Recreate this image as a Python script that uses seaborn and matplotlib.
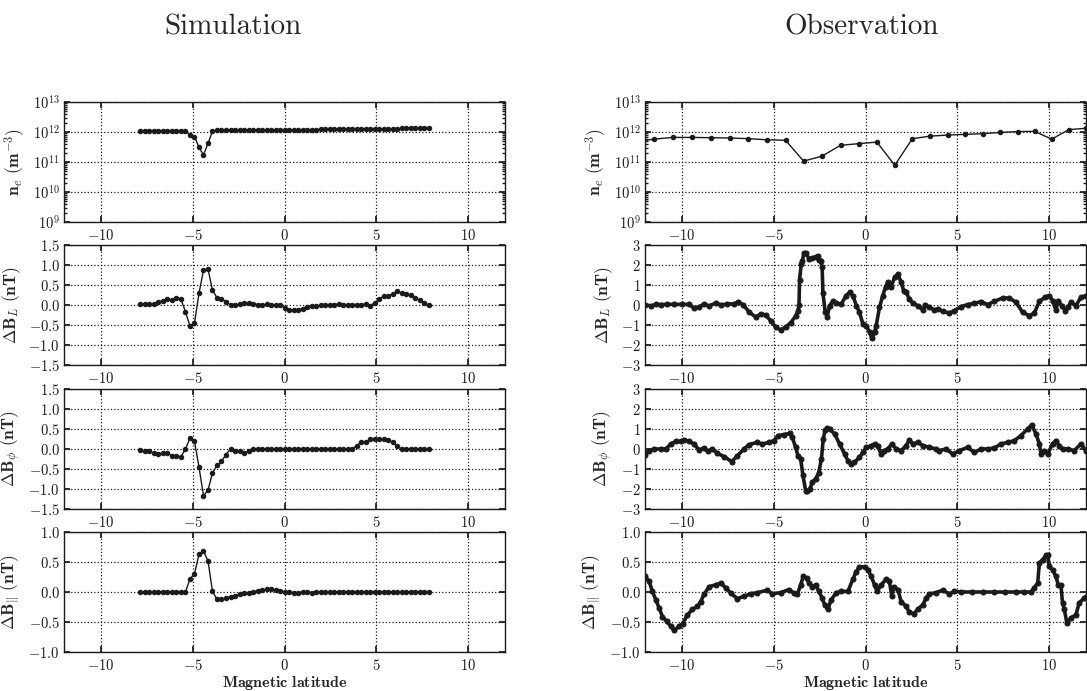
import numpy as np
import matplotlib
matplotlib.use("Agg")
import matplotlib.pyplot as plt
import seaborn as sns

# ---------------- Simulation data ----------------
sim_lat = np.linspace(-7.84, 7.84, 65)

sim_ne = np.array([
    1.12, 1.12, 1.12, 1.12, 1.12, 1.12, 1.12, 1.12, 1.12, 1.12,
    1.10, 0.81, 0.70, 0.31, 0.17, 0.42, 1.05,
    1.13, 1.13, 1.13, 1.13, 1.14, 1.14, 1.14, 1.14, 1.15, 1.15, 1.15, 1.15, 1.16, 1.16, 1.17,
    1.18, 1.18, 1.19, 1.19, 1.20, 1.20, 1.21, 1.21, 1.22, 1.22, 1.23, 1.23, 1.24, 1.24,
    1.25, 1.25, 1.26, 1.26, 1.27, 1.27, 1.28, 1.28, 1.29, 1.29, 1.30, 1.30, 1.31, 1.31,
    1.32, 1.32, 1.33, 1.33, 1.34]) * 1e12

sim_bl = [
    0.03, 0.03, 0.03, 0.03, 0.08, 0.11, 0.14, 0.12, 0.17, 0.14,
    -0.17, -0.53, -0.45, 0.29, 0.87, 0.90, 0.37, 0.18, 0.16, 0.08,
    0.00, 0.00, 0.02, 0.04, 0.04, 0.03, 0.01, -0.01, 0.02, 0.01,
    0.00, 0.00, -0.07, -0.12, -0.13, -0.12, -0.09, -0.04, -0.03, -0.03,
    -0.01, 0.00, 0.01, 0.01, 0.02, 0.01, 0.01, 0.01, 0.01, 0.01,
    0.02, -0.03, 0.06, 0.14, 0.22, 0.22, 0.28, 0.34, 0.29, 0.28,
    0.24, 0.18, 0.12, 0.05, 0.00]

sim_bphi = [
    -0.02, -0.05, -0.06, -0.11, -0.13, -0.11, -0.09, -0.18, -0.17, -0.20,
    0.00, 0.27, 0.19, -0.45, -1.17, -1.03, -0.60, -0.41, -0.31, -0.14,
    0.00, -0.04, -0.06, -0.10, -0.05, 0.00, 0.00, 0.00, 0.00, 0.00,
    0.00, 0.00, 0.00, 0.00, 0.00, 0.00, 0.00, 0.00, 0.00, 0.00,
    0.00, 0.00, 0.00, 0.00, 0.00, 0.00, 0.00, 0.00, 0.08, 0.17,
    0.17, 0.24, 0.26, 0.26, 0.24, 0.23, 0.17, 0.08, 0.00, 0.00,
    0.00, 0.00, 0.00, 0.00, 0.00]

sim_bpar = [
    0.00, 0.00, 0.00, 0.00, 0.00, 0.00, 0.00, 0.00, 0.00, 0.00,
    0.00, 0.22, 0.30, 0.63, 0.68, 0.52, 0.01, -0.12, -0.12, -0.10,
    -0.08, -0.06, -0.04, -0.02, -0.01, 0.00, 0.02, 0.03, 0.045, 0.045,
    0.035, 0.02, 0.00, 0.00, -0.01, -0.01, 0.00, 0.00, -0.01, 0.00,
    0.00, 0.00, 0.00, 0.00, 0.00, 0.00, 0.00, 0.00, 0.00, 0.00,
    0.00, 0.00, 0.00, 0.00, 0.00, 0.00, 0.00, 0.00, 0.00, 0.00,
    0.00, 0.00, 0.00, 0.00, 0.00]

# ---------------- Observation data ----------------
obs_ne_lat = [-12.5, -11.49, -10.47, -9.44, -8.41, -7.39, -6.38, -5.36, -4.35, -3.37,
              -2.37, -1.36, -0.36, 0.62, 1.59, 2.55, 3.53, 4.49, 5.43, 6.39,
              7.33, 8.28, 9.20, 10.13, 11.07, 11.99]
obs_ne = np.array([4.8, 5.8, 6.6, 6.6, 6.45, 6.3, 6.0, 5.5, 5.3, 1.07,
                   1.57, 3.6, 4.1, 4.6, 0.78, 6.0, 7.3, 7.9, 8.35, 8.8,
                   9.7, 10.3, 10.5, 5.8, 12.0, 13.3]) * 1e11

obs_bl_lat = [-12.0, -11.68, -11.41, -11.14, -10.78, -10.42, -10.0, -9.6, -9.33, -9.06,
              -8.79, -8.51, -8.15, -7.88, -7.52, -7.16, -6.92, -6.65, -6.34, -5.98,
              -5.71, -5.43, -5.16, -4.89, -4.62, -4.35, -4.08, -3.80, -3.68, -3.62,
              -3.59, -3.50, -3.44, -3.35, -3.24, -3.08, -2.90, -2.72, -2.60, -2.54,
              -2.45, -2.36, -2.32, -2.19, -2.08, -1.96, -1.78, -1.60, -1.32, -1.05,
              -0.87, -0.69, -0.50, -0.33, -0.14, 0.04, 0.22, 0.34, 0.49, 0.58,
              0.76, 0.94, 1.09, 1.21, 1.39, 1.58, 1.76, 1.94, 2.08, 2.21,
              2.39, 2.57, 2.84, 3.12, 3.24, 3.48, 3.75, 3.93, 4.20, 4.57,
              4.84, 5.20, 5.56, 5.92, 6.29, 6.65, 7.01, 7.46, 7.83, 8.19,
              8.55, 8.91, 9.18, 9.46, 9.76, 10.0, 10.18, 10.36, 10.49, 10.67,
              10.87, 11.0, 11.18, 11.45, 11.72, 11.99]
obs_bl = [0.02, -0.05, 0.03, 0.02, 0.03, 0.03, 0.03, 0.03, -0.15, -0.10,
          0.05, -0.05, 0.10, 0.00, 0.05, 0.05, 0.15, 0.00, -0.35, -0.60,
          -0.45, -0.50, -0.80, -1.10, -1.25, -1.10, -0.90, -0.55, -0.30, 0.00,
          1.25, 2.05, 2.20, 2.60, 2.60, 2.30, 2.35, 2.40, 2.45, 2.25,
          2.20, 1.90, 0.60, -0.37, -0.58, -0.03, 0.18, 0.08, 0.05, 0.47,
          0.63, 0.47, -0.03, -0.37, -0.95, -1.03, -1.37, -1.65, -1.37, -1.03,
          -0.12, 0.47, 0.90, 1.13, 0.90, 1.38, 1.55, 1.13, 0.70, 0.63,
          0.30, 0.08, -0.03, -0.25, 0.02, -0.12, -0.25, -0.20, -0.32, -0.40,
          -0.28, -0.08, 0.02, 0.08, 0.17, 0.02, 0.18, 0.35, 0.35, 0.13,
          -0.37, -0.53, -0.42, 0.18, 0.38, 0.47, 0.22, -0.25, 0.22, -0.03,
          -0.28, -0.12, 0.13, -0.03, 0.38, 0.47]

obs_bphi_lat = [-12.0, -11.78, -11.5, -11.14, -10.87, -10.6, -10.33, -10.05, -9.87, -9.6,
                -9.33, -9.06, -8.79, -8.6, -8.33, -8.06, -7.7, -7.28, -6.97, -6.61,
                -6.34, -5.89, -5.62, -5.25, -4.98, -4.76, -4.44, -4.11, -3.99, -3.8,
                -3.68, -3.53, -3.41, -3.26, -3.17, -3.03, -2.9, -2.72, -2.55, -2.4,
                -2.3, -2.2, -2.1, -1.96, -1.68, -1.41, -1.14, -0.96, -0.78, -0.6,
                -0.33, -0.14, 0.04, 0.31, 0.49, 0.67, 0.85, 1.03, 1.21, 1.43,
                1.67, 1.94, 2.21, 2.39, 2.57, 2.84, 3.12, 3.48, 3.84, 4.02,
                4.38, 4.75, 5.11, 5.56, 5.92, 6.29, 6.65, 7.01, 7.37, 7.74,
                8.1, 8.46, 8.82, 9.04, 9.28, 9.46, 9.55, 9.73, 9.91, 10.18,
                10.36, 10.54, 10.72, 11.0, 11.36, 11.72, 11.99]
obs_bphi = [-0.28, -0.08, 0.0, 0.0, 0.0, 0.25, 0.38, 0.38, 0.45, 0.38,
            0.25, -0.05, 0.05, -0.12, 0.0, -0.22, -0.38, -0.63, -0.33, 0.0,
            0.22, 0.33, 0.25, 0.33, 0.42, 0.67, 0.72, 0.78, 0.58, 0.08,
            -0.33, -0.5, -1.3, -2.08, -2.12, -2.0, -1.67, -1.5, -1.2, -0.5,
            0.5, 0.95, 1.05, 1.0, 0.75, 0.25, -0.25, -0.58, -0.75, -0.67,
            -0.42, -0.17, 0.08, 0.17, 0.25, 0.13, -0.25, -0.08, 0.0, 0.25,
            0.0, -0.08, 0.17, 0.45, 0.25, 0.33, 0.17, 0.08, 0.0, -0.08,
            0.0, -0.25, -0.08, 0.08, -0.17, 0.0, 0.0, 0.05, 0.25, 0.33,
            0.42, 0.67, 1.0, 1.2, 0.75, 0.25, -0.25, -0.08, -0.25, 0.25,
            0.42, 0.17, 0.0, 0.0, -0.08, 0.25, -0.08]

obs_bpar_lat = [-12.0, -11.78, -11.6, -11.41, -11.23, -11.05, -10.82, -10.6, -10.42, -10.14,
                -9.96, -9.69, -9.42, -9.15, -8.97, -8.79, -8.51, -8.15, -7.88, -7.61,
                -7.34, -6.97, -6.61, -6.25, -5.89, -5.34, -5.07, -4.62, -4.17, -3.9,
                -3.71, -3.53, -3.39, -3.21, -3.08, -2.9, -2.72, -2.54, -2.36, -2.23,
                -2.05, -1.87, -1.59, -1.32, -0.96, -0.69, -0.51, -0.33, -0.05, 0.13,
                0.31, 0.49, 0.63, 0.85, 1.12, 1.3, 1.43, 1.54, 1.76, 1.94,
                2.21, 2.39, 2.63, 2.84, 3.12, 3.3, 3.48, 3.84, 4.2, 4.57,
                4.84, 5.2, 5.8, 6.4, 7.0, 7.6, 8.2, 8.6, 9.0, 9.18,
                9.37, 9.46, 9.64, 9.82, 9.91, 10.0, 10.18, 10.36, 10.49, 10.63,
                10.72, 10.82, 10.96, 11.18, 11.45, 11.63, 11.9, 12.05]
obs_bpar = [0.26, 0.18, 0.01, -0.13, -0.27, -0.41, -0.49, -0.57, -0.64, -0.57,
            -0.53, -0.38, -0.29, -0.24, -0.16, -0.04, 0.09, 0.12, 0.15, 0.07,
            -0.02, -0.11, -0.07, -0.03, -0.01, 0.03, -0.03, -0.01, 0.04, -0.02,
            -0.04, 0.12, 0.26, 0.23, 0.15, 0.09, 0.12, 0.01, -0.10, -0.21,
            -0.29, -0.13, -0.01, 0.01, 0.01, 0.21, 0.34, 0.42, 0.42, 0.37,
            0.26, 0.12, 0.01, 0.12, 0.21, 0.18, -0.07, 0.09, 0.04, -0.16,
            -0.24, -0.34, -0.36, -0.29, -0.21, -0.10, -0.03, -0.01, 0.03, -0.03,
            0.01, 0.0, 0.0, 0.0, 0.0, 0.0, 0.0, 0.0, 0.0, 0.07,
            0.15, 0.48, 0.54, 0.61, 0.62, 0.43, 0.37, 0.26, 0.12, 0.12,
            -0.18, -0.29, -0.52, -0.43, -0.38, -0.18, -0.10, -0.07]

xticks = [-10, -5, 0, 5, 10]

# ---------------- Style ----------------
sns.set_theme(style="ticks")
plt.rcParams.update({
    "font.family": "serif",
    "font.serif": ["cmr10", "DejaVu Serif"],
    "mathtext.fontset": "cm",
    "axes.formatter.use_mathtext": True,
    "xtick.direction": "in",
    "ytick.direction": "in",
    "xtick.top": True,
    "ytick.right": True,
    "xtick.major.size": 4,
    "ytick.major.size": 4,
    "xtick.minor.size": 2,
    "ytick.minor.size": 2,
    "xtick.labelsize": 10.5,
    "ytick.labelsize": 10.5,
    "xtick.color": "k",
    "ytick.color": "k",
    "axes.edgecolor": "k",
    "axes.linewidth": 1.0,
    "xtick.major.pad": 4,
    "ytick.major.pad": 3,
})

fig = plt.figure(figsize=(10.87, 6.91), dpi=100)

left_x, right_x, width = 0.0589, 0.5934, 0.4057
bottoms = [0.6787, 0.4718, 0.2634, 0.0564]
height = 0.1737

ylabels = [r"$\mathbf{n}_e\ \mathbf{(m}^{-3}\mathbf{)}$",
           r"$\mathbf{\Delta B}_L\ \mathbf{(nT)}$",
           r"$\mathbf{\Delta B}_\phi\ \mathbf{(nT)}$",
           r"$\mathbf{\Delta B}_\Vert\ \mathbf{(nT)}$"]

sim_series = [(sim_lat, sim_ne), (sim_lat, sim_bl), (sim_lat, sim_bphi), (sim_lat, sim_bpar)]
obs_series = [(obs_ne_lat, obs_ne), (obs_bl_lat, obs_bl), (obs_bphi_lat, obs_bphi), (obs_bpar_lat, obs_bpar)]

sim_ylim = [(1e9, 1e13), (-1.5, 1.5), (-1.5, 1.5), (-1.0, 1.0)]
sim_yticks = [None, [-1.5, -1.0, -0.5, 0.0, 0.5, 1.0, 1.5], [-1.5, -1.0, -0.5, 0.0, 0.5, 1.0, 1.5],
              [-1.0, -0.5, 0.0, 0.5, 1.0]]
obs_ylim = [(1e9, 1e13), (-3, 3), (-3, 3), (-1.0, 1.0)]
obs_yticks = [None, [-3, -2, -1, 0, 1, 2, 3], [-3, -2, -1, 0, 1, 2, 3], [-1.0, -0.5, 0.0, 0.5, 1.0]]


def style_axis(ax, row, ylim, yticks, fmt):
    ax.set_xlim(-12, 12)
    ax.set_xticks(xticks)
    if row == 0:
        ax.set_yscale("log")
        ax.set_ylim(*ylim)
        ax.set_yticks([1e9, 1e10, 1e11, 1e12, 1e13])
    else:
        ax.set_ylim(*ylim)
        ax.set_yticks(yticks)
        ax.set_yticklabels(["$" + fmt.format(v) + "$" for v in yticks])
    ax.set_xticklabels(["$" + str(v) + "$" for v in xticks])
    ax.grid(True, which="major", color="k", linestyle=":", linewidth=0.9)
    ax.set_ylabel(ylabels[row], fontsize=12.5)
    ax.set_xlabel("")
    for s in ax.spines.values():
        s.set_color("k")
        s.set_linewidth(1.0)


for row in range(4):
    # Simulation column
    ax = fig.add_axes([left_x, bottoms[row], width, height])
    x, y = sim_series[row]
    sns.lineplot(x=x, y=y, ax=ax, color="k", marker="o", markersize=3.2,
                 markeredgecolor="k", linewidth=1.0, estimator=None, sort=False)
    style_axis(ax, row, sim_ylim[row], sim_yticks[row], "{:.1f}")
    if row == 3:
        ax.set_xlabel(r"$\mathbf{Magnetic\ latitude}$", fontsize=11.5, labelpad=1)

    # Observation column
    ax = fig.add_axes([right_x, bottoms[row], width, height])
    x, y = obs_series[row]
    if row == 0:
        sns.lineplot(x=x, y=y, ax=ax, color="k", marker="o", markersize=3.2,
                     markeredgecolor="k", linewidth=1.0, estimator=None, sort=False)
    else:
        sns.lineplot(x=x, y=y, ax=ax, color="k", marker="o", markersize=3.6,
                     markeredgecolor="k", linewidth=2.6, estimator=None, sort=False)
    style_axis(ax, row, obs_ylim[row], obs_yticks[row],
               "{:.1f}" if row == 3 else "{:.0f}")
    if row == 3:
        ax.set_xlabel(r"$\mathbf{Magnetic\ latitude}$", fontsize=11.5, labelpad=1)

fig.text(233 / 1087, 1 - 27 / 691, "Simulation", ha="center", va="center", fontsize=21)
fig.text(862 / 1087, 1 - 27 / 691, "Observation", ha="center", va="center", fontsize=21)

fig.savefig("out.png", dpi=100)
